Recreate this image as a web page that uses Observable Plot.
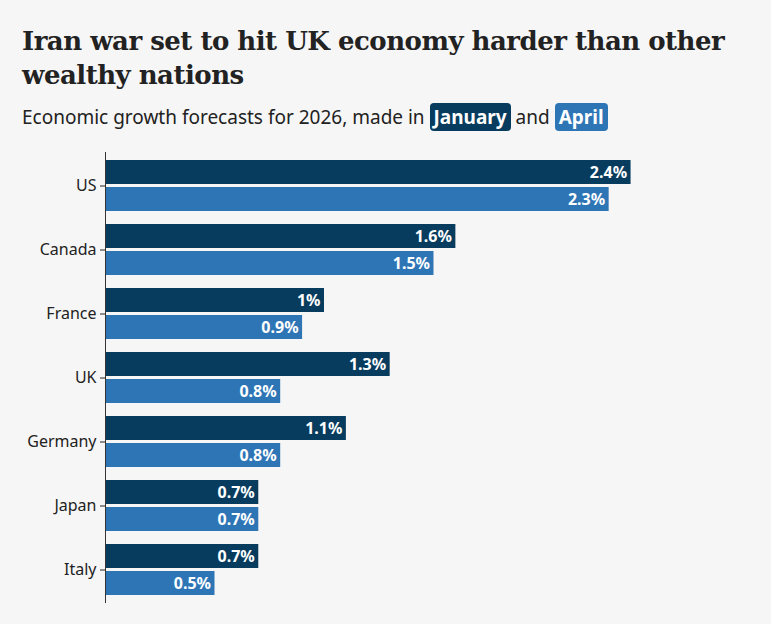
<!DOCTYPE html>
<html><head><meta charset="utf-8">
<script src="https://cdn.jsdelivr.net/npm/d3@7"></script>
<script src="https://cdn.jsdelivr.net/npm/@observablehq/plot@0.6"></script>
<style>
body{margin:0;background:#f6f6f6;font-family:"Noto Sans",sans-serif;}
#wrap{padding:24px 0 0 22px;}
h1{font-family:"DejaVu Serif",serif;font-weight:bold;font-size:26px;line-height:34px;margin:0;color:#222;letter-spacing:-0.5px;}
.sub{font-size:19px;color:#222;margin:12px 0 20px 0;}
.tag{color:#fff;font-weight:bold;padding:1px 4px;border-radius:4px;}
</style></head><body>
<div id="wrap">
<h1>Iran war set to hit UK economy harder than other wealthy nations</h1>
<div class="sub">Economic growth forecasts for 2026, made in <span class="tag" style="background:#073c5e">January</span> and <span class="tag" style="background:#2e75b6">April</span></div>
<div id="chart"></div>
</div>
<script>
const countries=["US","Canada","France","UK","Germany","Japan","Italy"];
const january=[2.4,1.6,1,1.3,1.1,0.7,0.7];
const april=[2.3,1.5,0.9,0.8,0.8,0.7,0.5];
const series=["January","April"];
const colors=["#073c5e","#2e75b6"];
const data=[];
countries.forEach((c,i)=>{data.push({country:c,series:"January",value:january[i]});data.push({country:c,series:"April",value:april[i]});});
const chart=Plot.plot({
  width:771-22,height:456,marginLeft:83,marginRight:20,marginTop:4,marginBottom:4,
  style:{background:"transparent",fontSize:"16px",fontFamily:"Noto Sans",color:"#222"},
  x:{domain:[0,2.95],axis:null},
  fy:{domain:countries,paddingInner:0.2,paddingOuter:0.07,label:null},
  y:{domain:series,paddingInner:0.12,paddingOuter:0,axis:null},
  color:{domain:series,range:colors},
  marks:[
    Plot.axisFy({anchor:"left",tickSize:5,label:null,fontSize:16}),
    Plot.barX(data,{fy:"country",y:"series",x:"value",fill:"series"}),
    Plot.text(data,{fy:"country",y:"series",x:"value",text:d=>d.value+"%",textAnchor:"end",dx:-4,fill:"white",fontWeight:"bold",fontSize:16}),
    Plot.ruleX([0],{stroke:"#333",insetTop:-8,insetBottom:-8})
  ]
});
document.getElementById("chart").append(chart);
</script>
</body></html>
